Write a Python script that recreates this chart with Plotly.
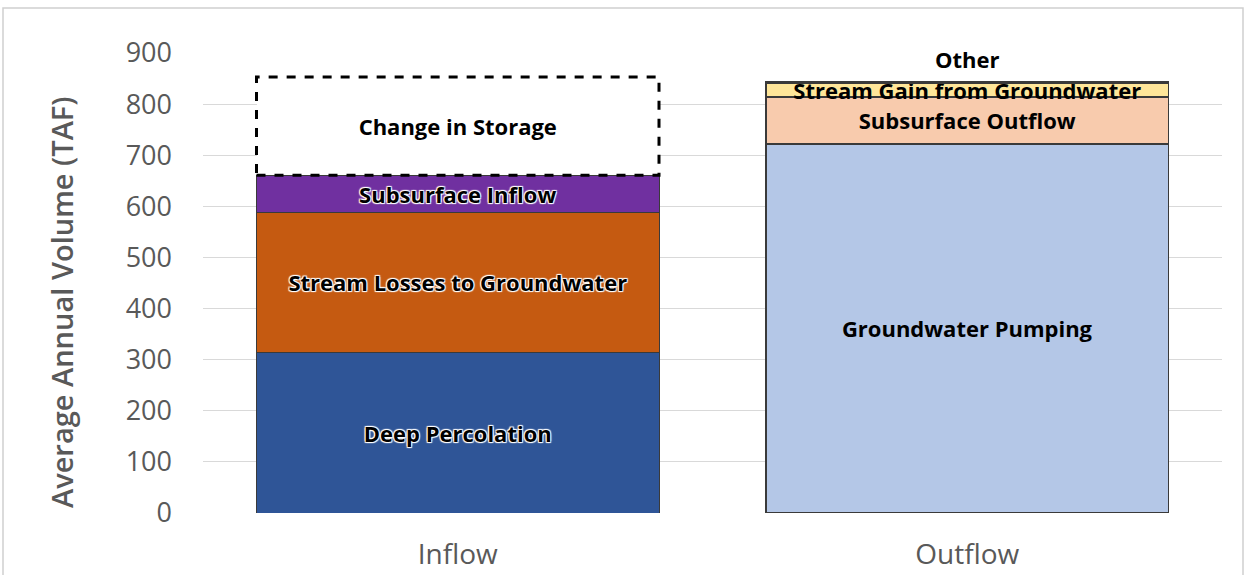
import plotly.graph_objects as go

categories = ["Inflow", "Outflow"]

inflow_names = ["Deep Percolation", "Stream Losses to Groundwater", "Subsurface Inflow", "Change in Storage"]
inflow_values = [315, 273, 73, 192]
inflow_colors = ["#2F5597", "#C55A11", "#7030A0", "#FFFFFF"]

outflow_names = ["Groundwater Pumping", "Subsurface Outflow", "Stream Gain from Groundwater", "Other"]
outflow_values = [722, 92, 27, 3]
outflow_colors = ["#B4C7E7", "#F8CBAD", "#FFE699", "#FFF2CC"]

y_ticks = [0, 100, 200, 300, 400, 500, 600, 700, 800, 900]
y_title = "Average Annual Volume (TAF)"

W = 1244
H = 575
ML, MR, MT, MB = 203, 22, 53, 62
BAR_W = 0.79
LABEL_FONT = "Open Sans"
LABEL_SIZE = 22
halo = "1px 1px 1px white, -1px -1px 1px white, 1px -1px 1px white, -1px 1px 1px white"

fig = go.Figure()

for n, v, c in zip(inflow_names, inflow_values, inflow_colors):
    is_storage = (n == "Change in Storage")
    fig.add_trace(go.Bar(
        x=[categories[0]], y=[v], name=n,
        marker=dict(color=c, line=dict(color="rgba(0,0,0,0)" if is_storage else "#3A3A3A",
                                       width=0 if is_storage else 1)),
        width=BAR_W,
        text=[n], textposition="inside", insidetextanchor="middle",
        constraintext="none",
        textfont=dict(family=LABEL_FONT, size=LABEL_SIZE, color="black", weight="bold",
                      shadow="none" if is_storage else halo),
        showlegend=False, hoverinfo="skip",
    ))

for n, v, c in zip(outflow_names, outflow_values, outflow_colors):
    is_other = (n == "Other")
    fig.add_trace(go.Bar(
        x=[categories[1]], y=[v], name=n,
        marker=dict(color=c, line=dict(color="#3A3A3A", width=1.5)),
        width=BAR_W,
        text=None if is_other else [n], textposition="inside",
        insidetextanchor="middle", constraintext="none", cliponaxis=False,
        textfont=dict(family=LABEL_FONT, size=LABEL_SIZE, color="black", weight="bold"),
        showlegend=False, hoverinfo="skip",
    ))

# label for the thin "Other" segment, placed above the top of the Outflow stack
fig.add_annotation(x=categories[1], y=sum(outflow_values), xref="x", yref="y",
                   text=outflow_names[-1], showarrow=False, yanchor="bottom", yshift=6,
                   font=dict(family=LABEL_FONT, size=LABEL_SIZE, color="black", weight="bold"))

# dashed outline for change in storage, derived from data
storage_base = sum(inflow_values[:3])
storage_top = sum(inflow_values)
fig.add_shape(type="rect", xref="x", yref="y",
              x0=0 - BAR_W / 2, x1=0 + BAR_W / 2,
              y0=storage_base, y1=storage_top,
              line=dict(color="black", width=3, dash="dash"),
              fillcolor="rgba(0,0,0,0)", layer="above")

pw = W - ML - MR
ph = H - MT - MB

# y-axis title as rotated text
fig.add_annotation(x=(61 - ML) / pw, y=(H - MB - 303) / ph, xref="paper", yref="paper",
                   text=y_title, textangle=-90, showarrow=False,
                   xanchor="center", yanchor="middle",
                   font=dict(family="Open Sans", size=29, color="#595959", weight=600))

# outer chart border
fig.add_shape(type="rect", xref="paper", yref="paper",
              x0=(3 - ML) / pw, x1=(W - 1 - ML) / pw,
              y0=-(MB + 2) / ph,
              y1=1 + (MT - 8) / ph,
              line=dict(color="#D0D0D0", width=1.5), fillcolor="rgba(0,0,0,0)", layer="below")

fig.update_layout(
    width=W, height=H,
    margin=dict(l=ML, r=MR, t=MT, b=MB, autoexpand=False),
    barmode="stack",
    plot_bgcolor="white", paper_bgcolor="white",
    font=dict(family="Open Sans", color="#595959"),
)
fig.update_xaxes(
    categoryorder="array", categoryarray=categories,
    tickfont=dict(family="Open Sans", size=28, color="#595959"),
    ticklabelstandoff=22, automargin=False,
    showline=False, showgrid=False, ticks="",
)
fig.update_yaxes(
    range=[0, 900], tickvals=y_ticks,
    tickfont=dict(family="Open Sans", size=27, color="#595959"),
    showgrid=True, gridcolor="#D9D9D9", gridwidth=1,
    zeroline=False, showline=False, ticks="",
    ticklabelstandoff=30, automargin=False,
)

fig.write_html("out.html", config={"displayModeBar": False},
               post_script="document.body.style.margin='0';")
